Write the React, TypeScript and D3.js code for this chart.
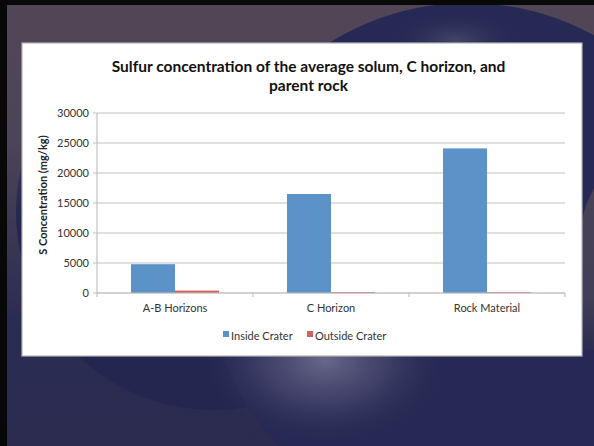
import React from "react";
import * as d3 from "d3";

const categories = ["A-B Horizons", "C Horizon", "Rock Material"];
const seriesNames = ["Inside Crater", "Outside Crater"];
const insideCrater = [4800, 16500, 24100];
const outsideCrater = [400, 150, 120];
const yTicks = [0, 5000, 10000, 15000, 20000, 25000, 30000];
const titleLines = ["Sulfur concentration of the average solum, C horizon, and", "parent rock"];
const yAxisTitle = "S Concentration (mg/kg)";

const W = 594;
const H = 446;
const FONT = "Lato, 'Open Sans', sans-serif";
const colors = ["#5b93c8", "#d4625c"];

export default function App() {
  const left = 97, right = 565, top = 113, bottom = 293;
  const x = d3.scaleBand<string>().domain(categories).range([left, right]).paddingInner(0).paddingOuter(0);
  const xs = d3.scaleBand<string>().domain(seriesNames).range([0, x.bandwidth()]).paddingInner(0).paddingOuter(34 / 44);
  const y = d3.scaleLinear().domain([0, 30000]).range([bottom, top]);
  const series = [insideCrater, outsideCrater];
  const boundaries = [...categories.map((c) => x(c) as number), right];

  return (
    <svg width={W} height={H} style={{ position: "absolute", left: 0, top: 0, display: "block" }}>
      <defs>
        <linearGradient id="bg" x1="0" y1="0" x2="0" y2="1">
          <stop offset="0" stopColor="#514656" />
          <stop offset="0.32" stopColor="#4c4457" />
          <stop offset="0.72" stopColor="#2b2c52" />
          <stop offset="1" stopColor="#2a2b4f" />
        </linearGradient>
        <linearGradient id="circC" x1="0" y1="0" x2="0" y2="1">
          <stop offset="0.25" stopColor="#24264f" stopOpacity="0" />
          <stop offset="0.52" stopColor="#24264f" stopOpacity="1" />
          <stop offset="1" stopColor="#24264f" stopOpacity="1" />
        </linearGradient>
        <linearGradient id="wedge" x1="0" y1="0" x2="0" y2="1">
          <stop offset="0" stopColor="#4a4357" />
          <stop offset="0.7" stopColor="#403d57" />
          <stop offset="1" stopColor="#2b2c50" />
        </linearGradient>
        <radialGradient id="glow" cx="0.5" cy="0.5" r="0.5">
          <stop offset="0" stopColor="#6d6b8c" stopOpacity="0.95" />
          <stop offset="0.5" stopColor="#4f4e75" stopOpacity="0.6" />
          <stop offset="1" stopColor="#2a2b52" stopOpacity="0" />
        </radialGradient>
        <radialGradient id="glowTop" cx="0.5" cy="0.5" r="0.5">
          <stop offset="0" stopColor="#46476c" stopOpacity="0.9" />
          <stop offset="1" stopColor="#262953" stopOpacity="0" />
        </radialGradient>
      </defs>

      <rect x={0} y={0} width={W} height={H} fill="url(#bg)" />
      <circle cx={214} cy={212} r={198} fill="url(#circC)" />
      <circle cx={468} cy={265} r={262} fill="#262953" />
      <ellipse cx={455} cy={40} rx={70} ry={30} fill="url(#glowTop)" />
      <path d="M594,188 L586,205 L578,235 L578,350 L594,350 Z" fill="url(#wedge)" />
      <ellipse cx={325} cy={360} rx={125} ry={85} fill="url(#glow)" />
      <rect x={0} y={0} width={7} height={H} fill="#080808" />
      <rect x={0} y={0} width={W} height={5} fill="#080808" />

      <rect x={22} y={43} width={560} height={313} fill="#ffffff" stroke="#b4b4b4" strokeWidth={1.2} />

      {titleLines.map((t, i) => (
        <text key={i} x={308.5} y={72 + i * 18.5} textAnchor="middle" fontFamily={FONT} fontWeight="bold" fontSize={15.5} fill="#111">
          {t}
        </text>
      ))}

      {yTicks.map((t) => (
        <g key={t}>
          <line x1={left - 4} x2={right} y1={y(t)} y2={y(t)} stroke="#c2c2c2" strokeWidth={1.2} />
          <text x={89} y={y(t) + 4} textAnchor="end" fontFamily={FONT} fontSize={11} fill="#333">
            {t}
          </text>
        </g>
      ))}
      <line x1={left} x2={left} y1={top} y2={bottom} stroke="#c2c2c2" strokeWidth={1.2} />

      {categories.map((c, ci) =>
        seriesNames.map((s, si) => {
          const v = series[si][ci];
          const bx = (x(c) as number) + (xs(s) as number);
          return (
            <rect key={c + s} x={bx} y={y(v)} width={xs.bandwidth()} height={bottom - y(v)} fill={colors[si]} />
          );
        })
      )}

      <line x1={left} x2={right} y1={bottom} y2={bottom} stroke="#c2c2c2" strokeWidth={1.2} />
      {boundaries.map((b, i) => (
        <line key={i} x1={b} x2={b} y1={bottom} y2={bottom + 4} stroke="#c2c2c2" strokeWidth={1.2} />
      ))}

      {categories.map((c) => (
        <text key={c} x={(x(c) as number) + x.bandwidth() / 2} y={312} textAnchor="middle" fontFamily={FONT} fontSize={11} fill="#333">
          {c}
        </text>
      ))}

      <text transform={`translate(47,195) rotate(-90)`} textAnchor="middle" fontFamily={FONT} fontWeight="bold" fontSize={11} fill="#222">
        {yAxisTitle}
      </text>

      {seriesNames.map((s, i) => {
        const lx = [223, 307][i];
        return (
          <g key={s}>
            <rect x={lx} y={331} width={6} height={6} fill={colors[i]} />
            <text x={lx + 8} y={340} fontFamily={FONT} fontSize={11} fill="#333">
              {s}
            </text>
          </g>
        );
      })}
    </svg>
  );
}
